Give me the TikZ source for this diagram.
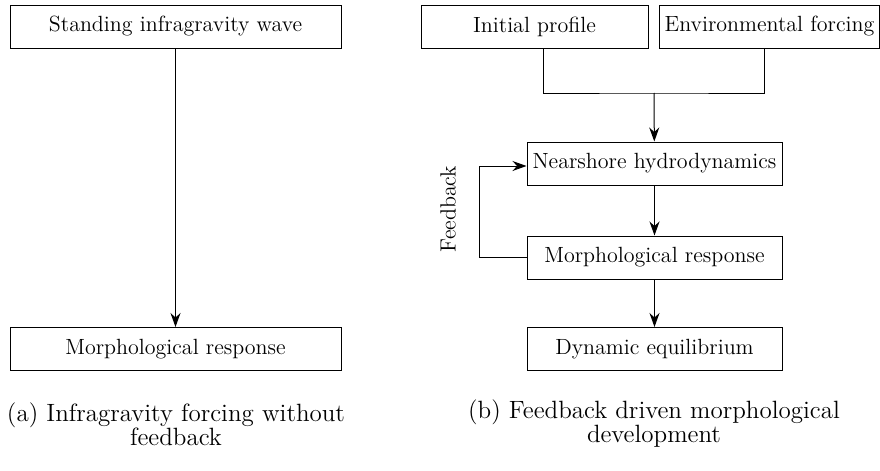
\documentclass[tikz,border=0pt]{standalone}
\usetikzlibrary{arrows.meta}
\begin{document}
\begin{tikzpicture}[x=0.5pt,y=-0.5pt,
  every node/.style={font=\fontsize{11}{13}\selectfont},
  box/.style={draw,line width=0.5pt,minimum height=21.5pt,inner sep=2pt},
  arr/.style={-{Stealth[length=7pt,width=5pt]},line width=0.5pt},
  captxt/.style={align=center,font=\fontsize{12.5}{12}\selectfont}]
\useasboundingbox (0,0) rectangle (880,471);
% (a) without feedback
\node[box,minimum width=165.5pt] (wave) at (175.5,26.5) {Standing infragravity wave};
\node[box,minimum width=165.5pt] (morphA) at (175.5,349) {Morphological response};
\draw[arr] (wave)--(morphA);
\node[captxt] (capA) at (176,424) {(a) Infragravity forcing without\\feedback};
% (b) feedback loop
\node[box,minimum width=113.5pt] (init) at (534.5,26.5) {Initial profile};
\node[box,minimum width=110pt] (env) at (769.5,26.5) {Environmental forcing};
\node[box,minimum width=127.5pt] (hydro) at (654.5,163.5) {Nearshore hydrodynamics};
\node[box,minimum width=127.5pt] (morphB) at (654.5,257.5) {Morphological response};
\node[box,minimum width=127.5pt] (equi) at (654.5,349) {Dynamic equilibrium};
\coordinate (join) at (654,93);
\draw[line width=0.5pt] (init.south -| 543,0) |- (join) -| (env.south -| 764,0);
\draw[arr] (join)--(hydro);
\draw[arr] (hydro)--(morphB);
\draw[arr] (morphB)--(equi);
\draw[arr] (morphB.west) -| (479,166) -- (hydro.west |- 0,166);
\node[rotate=90] (fb) at (448,209) {Feedback};
\node[captxt] (capB) at (654,424) {(b) Feedback driven morphological\\development};
\end{tikzpicture}
\end{document}
